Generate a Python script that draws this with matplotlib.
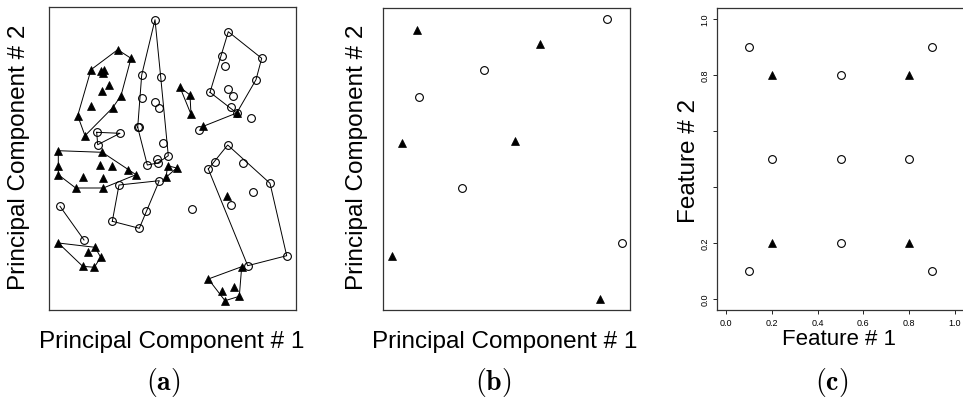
import numpy as np
import matplotlib.pyplot as plt

plt.rcParams['font.family'] = ['Liberation Sans', 'DejaVu Sans']
plt.rcParams['mathtext.fontset'] = 'cm'

W, H = 963, 402

# ---- panel (a): PCA scores of all points, grouped by cluster outline ----
circ_big = [(106, 290.3), (92.7, 235), (111.7, 233), (92.7, 212.3), (106, 208),
            (110, 202), (88.7, 182.7), (89.5, 183.5), (113.7, 167), (119.3, 154.3),
            (107.7, 151), (108.7, 147), (98.3, 145)]
circ_small = [(47.7, 177.7), (71, 176.7), (48.7, 165.3)]
circ_mid = [(70, 125), (110.3, 129.3), (96.7, 98.7), (90.3, 81.7), (63.3, 88.7)]
circ_pair = [(11, 103.7), (35, 70)]
circ_upper_right = [(179.3, 278.3), (212.7, 251.7), (172.7, 254.3), (176, 243.7),
                    (207, 230.3), (179.3, 221), (184.3, 214.3), (161, 217.7),
                    (181.7, 202.7), (187.7, 197)]
circ_lower_right = [(178.7, 165), (194.3, 146.7), (166, 147.7), (159.3, 141),
                    (221, 126.7), (204.3, 117.7), (182, 105.3), (237.7, 54.3),
                    (198.7, 44.3)]
circ_single = [(143.3, 101), (201.7, 191.7), (150.3, 180.3)]

tri_top_left = [(68.7, 260.3), (82, 251.7), (42, 240.3), (52, 239), (54, 237),
                (55, 240), (60, 225), (52.7, 219.3), (72, 214.3), (42, 204),
                (63.7, 202.3), (28.7, 194.3), (36, 174.3)]
tri_mid_left = [(9.3, 159.3), (53.3, 157.7), (9.3, 143.7), (9.3, 135.3), (51, 145.3),
                (63.3, 144.3), (33.7, 133.3), (54.3, 131.7), (79.3, 140.3),
                (87, 135.3), (26.7, 122), (54.3, 122)]
tri_bottom_left = [(9.3, 67), (46, 62.7), (38.7, 58.3), (51.7, 52.7), (45.3, 42.7),
                   (33.7, 43.7)]
tri_center = [(118.7, 144.3), (127.7, 142), (117, 132.7)]
tri_upper = [(131, 222.7), (141, 215), (142, 195.7)]
tri_pair = [(154.3, 183.7), (187.7, 197)]
tri_bottom_right = [(192.7, 43.3), (159.3, 31), (185.3, 22.7), (173.3, 19.3),
                    (190.3, 13.7), (176, 9.3)]
tri_single = [(177.7, 114.3)]

circle_clusters = [circ_big, circ_small, circ_mid, circ_pair, circ_upper_right,
                   circ_lower_right]
triangle_clusters = [tri_top_left, tri_mid_left, tri_bottom_left, tri_center,
                     tri_upper, tri_pair, tri_bottom_right]

# ---- panel (b): a handful of points ----
b_circ_x = [223.7, 100.3, 36, 79.3, 238.3]
b_circ_y = [290.8, 240.5, 212.8, 122.2, 66.8]
b_tri_x = [34.3, 156.3, 19.3, 132, 9.3, 217]
b_tri_y = [279.8, 265.8, 167.2, 168.8, 53.8, 10.8]

# ---- panel (c): XOR-like grid ----
c_circ_x = [0.1, 0.9, 0.5, 0.2, 0.5, 0.8, 0.5, 0.1, 0.9]
c_circ_y = [0.9, 0.9, 0.8, 0.5, 0.5, 0.5, 0.2, 0.1, 0.1]
c_tri_x = [0.2, 0.8, 0.2, 0.8]
c_tri_y = [0.8, 0.8, 0.2, 0.2]
c_ticks = [0.0, 0.2, 0.4, 0.6, 0.8, 1.0]
c_xticklabels = ['0.0', '0.2', '0.4', '0.6', '0.8', '1.0']
c_yticklabels = ['0.0', '0.2', '', '', '0.8', '1.0']


def convex_hull(pts):
    pts = sorted(set(pts))
    if len(pts) < 3:
        return pts

    def cross(o, a, b):
        return (a[0] - o[0]) * (b[1] - o[1]) - (a[1] - o[1]) * (b[0] - o[0])

    lower, upper = [], []
    for p in pts:
        while len(lower) >= 2 and cross(lower[-2], lower[-1], p) <= 0:
            lower.pop()
        lower.append(p)
    for p in reversed(pts):
        while len(upper) >= 2 and cross(upper[-2], upper[-1], p) <= 0:
            upper.pop()
        upper.append(p)
    return lower[:-1] + upper[:-1]


def add_axes_px(fig, left, top, right, bottom):
    return fig.add_axes([left / W, 1 - bottom / H, (right - left) / W, (bottom - top) / H])


def style_frame(ax):
    for s in ax.spines.values():
        s.set_color('#333333')
        s.set_linewidth(0.9)


def fig_text(fig, x, y, s, **kw):
    fig.text(x / W, 1 - y / H, s, ha='center', va='center', **kw)


circ_kw = dict(ls='none', marker='o', ms=5.6, mfc='none', mec='black', mew=0.8)
tri_kw = dict(ls='none', marker='^', ms=5.2, mfc='black', mec='black', mew=0.5)

fig = plt.figure(figsize=(W / 100, H / 100), dpi=100)

# (a)
ax = add_axes_px(fig, 49, 8, 296, 311)
for cl in circle_clusters + triangle_clusters:
    hull = convex_hull(cl)
    if len(hull) > 2:
        hull = hull + [hull[0]]
    hx, hy = zip(*hull)
    ax.plot(hx, hy, color='black', lw=0.7)
all_circ = [p for cl in circle_clusters for p in cl] + circ_single
all_tri = [p for cl in triangle_clusters for p in cl] + tri_single
ax.plot(*zip(*all_circ), **circ_kw)
ax.plot(*zip(*all_tri), **tri_kw)
ax.set_xlim(0, 247)
ax.set_ylim(0, 303)
ax.set_xticks([])
ax.set_yticks([])
style_frame(ax)

# (b)
ax = add_axes_px(fig, 383, 8.5, 630, 311)
ax.plot(b_circ_x, b_circ_y, **circ_kw)
ax.plot(b_tri_x, b_tri_y, **tri_kw)
ax.set_xlim(0, 246.5)
ax.set_ylim(0, 302.5)
ax.set_xticks([])
ax.set_yticks([])
style_frame(ax)

# (c)
ax = add_axes_px(fig, 717, 9, 964, 311)
ax.plot(c_circ_x, c_circ_y, **circ_kw)
ax.plot(c_tri_x, c_tri_y, **tri_kw)
ax.set_xlim(-0.04, 1.04)
ax.set_ylim(-0.04, 1.04)
ax.set_xticks(c_ticks)
ax.set_xticklabels(c_xticklabels)
ax.set_yticks(c_ticks)
ax.set_yticklabels(c_yticklabels, rotation=90, va='center')
ax.tick_params(direction='out', length=3, width=0.6, labelsize=6.5, pad=2.5)
style_frame(ax)

# labels
lab = dict(fontsize=17.5)
fig_text(fig, 171.5, 342, 'Principal Component # 1', **lab)
fig_text(fig, 505, 342, 'Principal Component # 1', **lab)
fig_text(fig, 839, 340, 'Feature # 1', fontsize=16)
fig_text(fig, 19, 157, 'Principal Component # 2', rotation=90, **lab)
fig_text(fig, 357, 157, 'Principal Component # 2', rotation=90, **lab)
fig_text(fig, 689, 161, 'Feature # 2', rotation=90, **lab)

fig_text(fig, 163, 383, r'$\mathbf{(a)}$', fontsize=20)
fig_text(fig, 493, 383, r'$\mathbf{(b)}$', fontsize=20)
fig_text(fig, 832, 383, r'$\mathbf{(c)}$', fontsize=20)

fig.savefig('out.png', dpi=100)
